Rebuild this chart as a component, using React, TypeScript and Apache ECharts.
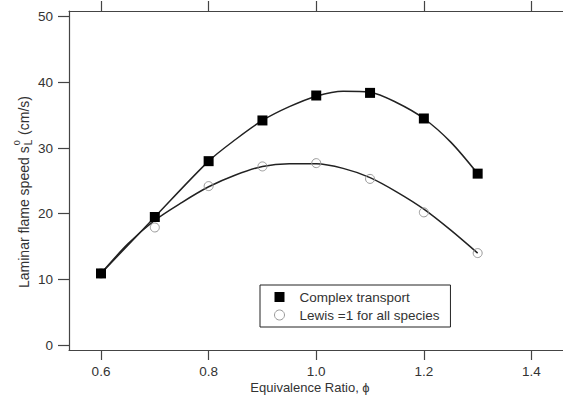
import React, { useEffect, useRef } from "react";
import * as echarts from "echarts";

// Measured points
const phi = [0.6, 0.7, 0.8, 0.9, 1.0, 1.1, 1.2, 1.3];
const complexTransport = [10.9, 19.5, 28.0, 34.2, 38.0, 38.4, 34.5, 26.1];
const lewisUnity = [10.9, 17.9, 24.2, 27.2, 27.7, 25.3, 20.2, 14.0];

// Fitted curves
const complexCurvePhi = [0.6, 0.7, 0.8, 0.85, 0.9, 0.95, 1.0, 1.05, 1.1, 1.15, 1.2, 1.25, 1.3];
const complexCurve = [10.9, 19.5, 28.0, 31.3, 34.2, 36.3, 37.9, 38.65, 38.5, 36.9, 34.5, 30.9, 26.1];
const lewisCurvePhi = [0.6, 0.65, 0.7, 0.75, 0.8, 0.85, 0.9, 0.95, 1.0, 1.05, 1.1, 1.15, 1.2, 1.25, 1.3];
const lewisCurve = [10.9, 15.4, 19.0, 21.7, 24.1, 25.9, 27.2, 27.6, 27.6, 26.9, 25.5, 23.3, 20.7, 17.5, 14.0];

const xTicks = [0.6, 0.8, 1.0, 1.2, 1.4];
const yTicks = [0, 10, 20, 30, 40, 50];
const seriesNames = ["Complex transport", "Lewis =1 for all species"];
const xTitle = "Equivalence Ratio, \u03d5";
const yTitleParts = ["Laminar flame speed s", "L", "0", " (cm/s)"];

const FONT = "'Liberation Sans', Arial, Helvetica, sans-serif";

function measure(text: string, size: number): number {
  const c = document.createElement("canvas").getContext("2d");
  if (!c) return text.length * size * 0.5;
  c.font = `${size}px 'Liberation Sans', Arial, sans-serif`;
  return c.measureText(text).width;
}

export default function App() {
  const ref = useRef<HTMLDivElement>(null);
  useEffect(() => {
    if (!ref.current) return;
    const chart = echarts.init(ref.current, undefined, { renderer: "svg" });
    const yFs = 14;
    const w1 = measure(yTitleParts[0], yFs);
    const wL = measure(yTitleParts[1], 10);
    const axisLine = { show: true, onZero: false, lineStyle: { color: "#444", width: 1.2 } };
    const axisTickBase = { show: true, length: 10, lineStyle: { color: "#444", width: 1.2 } };
    const labelStyle = { color: "#333", fontSize: 13.5, fontFamily: FONT };
    const xMin = 0.5405;
    const xMax = 1.4586;
    chart.setOption({
      animation: false,
      backgroundColor: "#fff",
      grid: { left: 69, top: 11, right: 0, bottom: 56, containLabel: false },
      xAxis: [
        {
          type: "value",
          position: "bottom",
          min: xMin,
          max: xMax,
          axisLine,
          axisTick: { ...axisTickBase, customValues: xTicks },
          axisLabel: {
            ...labelStyle,
            margin: 14,
            lineHeight: 14,
            customValues: xTicks,
            formatter: (v: number) => v.toFixed(1),
          },
          splitLine: { show: false },
          name: xTitle,
          nameLocation: "middle",
          nameGap: 30,
          nameMoveOverlap: false,
          nameTextStyle: { color: "#333", fontSize: 13, lineHeight: 14, fontFamily: FONT, padding: [0, 12, 0, 0] },
        },
        {
          type: "value",
          position: "top",
          min: xMin,
          max: xMax,
          axisLine,
          axisTick: { ...axisTickBase, customValues: xTicks },
          axisLabel: { show: false },
          splitLine: { show: false },
        },
      ],
      yAxis: {
        type: "value",
        min: -0.76,
        max: 50.87,
        axisLine,
        axisTick: { ...axisTickBase, length: 11, customValues: yTicks },
        axisLabel: { ...labelStyle, margin: 16, customValues: yTicks },
        splitLine: { show: false },
      },
      legend: {
        orient: "vertical",
        left: 260,
        top: 285,
        padding: [5, 11, 5, 14],
        itemWidth: 10,
        itemHeight: 10,
        itemGap: 4,
        borderColor: "#222",
        borderWidth: 1,
        backgroundColor: "#fff",
        textStyle: { fontSize: 13.5, color: "#333", fontFamily: FONT, padding: [0, 0, 0, 10], lineHeight: 12 },
        data: [
          { name: seriesNames[0], icon: "rect", itemStyle: { color: "#000" } },
          {
            name: seriesNames[1],
            icon: "circle",
            itemStyle: { color: "rgba(0,0,0,0)", borderColor: "#999", borderWidth: 1 },
          },
        ],
      },
      graphic: [
        {
          type: "group",
          x: 24,
          y: 288,
          rotation: Math.PI / 2,
          children: [
            {
              type: "text",
              x: 0,
              y: 0,
              style: { text: yTitleParts[0], fontSize: yFs, fontFamily: FONT, fill: "#333", align: "left", verticalAlign: "middle" },
            },
            {
              type: "text",
              x: w1 + 1,
              y: 4,
              style: { text: yTitleParts[1], fontSize: 10, fontFamily: FONT, fill: "#333", align: "left", verticalAlign: "middle" },
            },
            {
              type: "text",
              x: w1 + 1,
              y: -7,
              style: { text: yTitleParts[2], fontSize: 9, fontFamily: FONT, fill: "#333", align: "left", verticalAlign: "middle" },
            },
            {
              type: "text",
              x: w1 + wL + 2,
              y: 0,
              style: { text: yTitleParts[3], fontSize: yFs, fontFamily: FONT, fill: "#333", align: "left", verticalAlign: "middle" },
            },
          ],
        },
      ],
      series: [
        {
          name: "Lewis fit",
          type: "line",
          data: lewisCurvePhi.map((x, i) => [x, lewisCurve[i]]),
          smooth: 0.3,
          showSymbol: false,
          symbol: "none",
          silent: true,
          lineStyle: { color: "#222", width: 1.5 },
          z: 2,
        },
        {
          name: "Complex fit",
          type: "line",
          data: complexCurvePhi.map((x, i) => [x, complexCurve[i]]),
          smooth: 0.3,
          showSymbol: false,
          symbol: "none",
          silent: true,
          lineStyle: { color: "#222", width: 1.5 },
          z: 2,
        },
        {
          name: seriesNames[1],
          type: "scatter",
          data: phi.map((x, i) => [x, lewisUnity[i]]),
          symbol: "circle",
          symbolSize: 9,
          itemStyle: { color: "rgba(0,0,0,0)", borderColor: "#999", borderWidth: 1, opacity: 1 },
          z: 3,
        },
        {
          name: seriesNames[0],
          type: "scatter",
          data: phi.map((x, i) => [x, complexTransport[i]]),
          symbol: "rect",
          symbolSize: 10,
          itemStyle: { color: "#000", opacity: 1 },
          z: 4,
        },
      ],
    });
    return () => chart.dispose();
  }, []);
  return (
    <div
      ref={ref}
      style={{ position: "fixed", left: 0, top: 0, width: 563, height: 406, background: "#fff" }}
    />
  );
}
